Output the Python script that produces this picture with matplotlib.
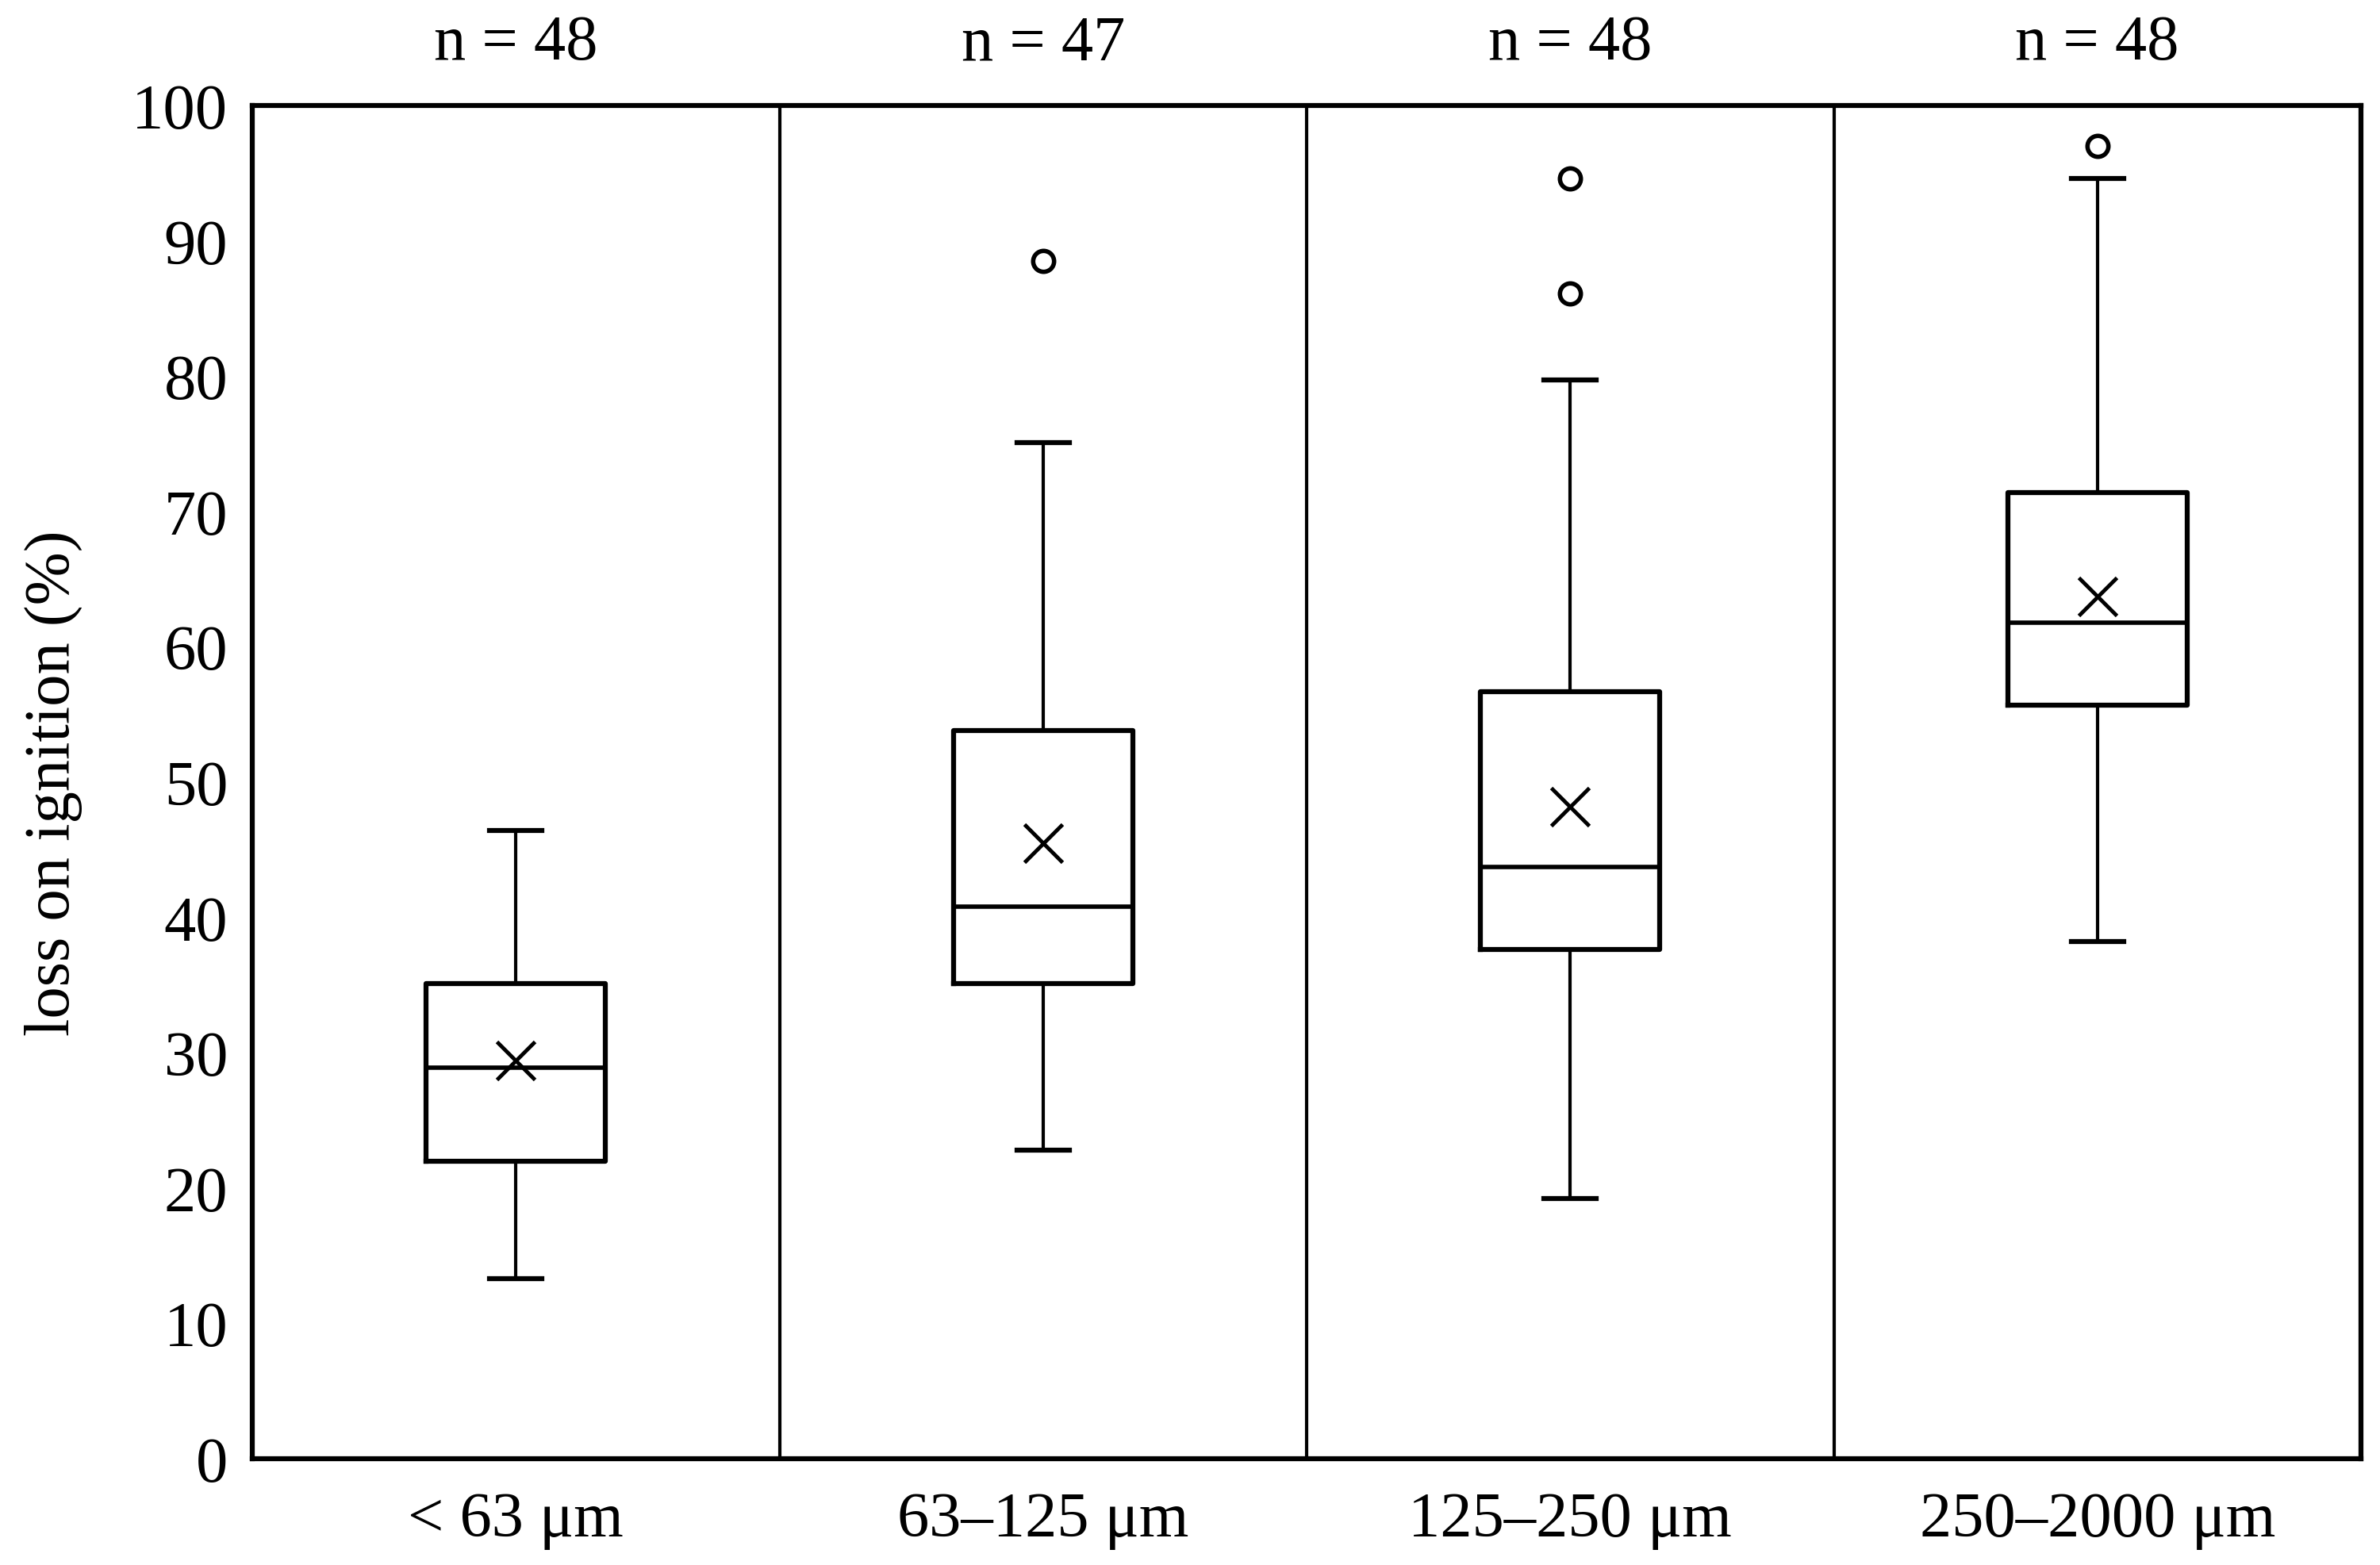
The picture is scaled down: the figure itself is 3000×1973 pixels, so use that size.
import matplotlib.pyplot as plt

plt.rcParams['font.family'] = ['Liberation Serif', 'DejaVu Serif']

# 粒径分组
groups = ['< 63 μm', '63–125 μm', '125–250 μm', '250–2000 μm']
n_counts = [48, 47, 48, 48]

# 箱线图统计量
whis_low = [13.3, 22.8, 19.2, 38.2]
q1 = [22.0, 35.1, 37.6, 55.7]
median = [28.9, 40.8, 43.7, 61.8]
q3 = [35.1, 53.8, 56.7, 71.4]
whis_high = [46.4, 75.1, 79.7, 94.6]
means = [29.4, 45.5, 48.2, 63.7]
outliers = [[], [88.5], [94.6, 86.1], [97.0]]

stats = []
for i in range(len(groups)):
    stats.append(dict(whislo=whis_low[i], q1=q1[i], med=median[i], q3=q3[i],
                      whishi=whis_high[i], mean=means[i], fliers=outliers[i],
                      label=groups[i]))

fig = plt.figure(figsize=(30, 19.74), dpi=100)
ax = fig.add_axes([0.106, 0.068, 0.886, 0.864])

ax.bxp(stats, positions=[1, 2, 3, 4], widths=0.34, showmeans=True,
       boxprops=dict(color='black', linewidth=4.5),
       medianprops=dict(color='black', linewidth=4),
       whiskerprops=dict(color='black', linewidth=3),
       capprops=dict(color='black', linewidth=4.5),
       capwidths=0.1,
       flierprops=dict(marker='o', markerfacecolor='white', markeredgecolor='black',
                       markersize=19, markeredgewidth=4),
       meanprops=dict(marker='x', markeredgecolor='black', markersize=34,
                      markeredgewidth=3.5))

# 分隔线
for x in [1.5, 2.5, 3.5]:
    ax.axvline(x, color='black', linewidth=3)

ax.set_xlim(0.5, 4.5)
ax.set_ylim(0, 100)
ax.set_yticks(range(0, 101, 10))
ax.tick_params(axis='both', length=0, labelsize=58, pad=22)
ax.tick_params(axis='x', pad=30)
for s in ax.spines.values():
    s.set_linewidth(4.5)

ax.set_ylabel('loss on ignition (%)', fontsize=58, labelpad=45)

for i, n in enumerate(n_counts):
    ax.text(i + 1, 1.046, 'n = %d' % n, transform=ax.get_xaxis_transform(),
            ha='center', va='center', fontsize=58)

plt.savefig('out.png', dpi=100)
